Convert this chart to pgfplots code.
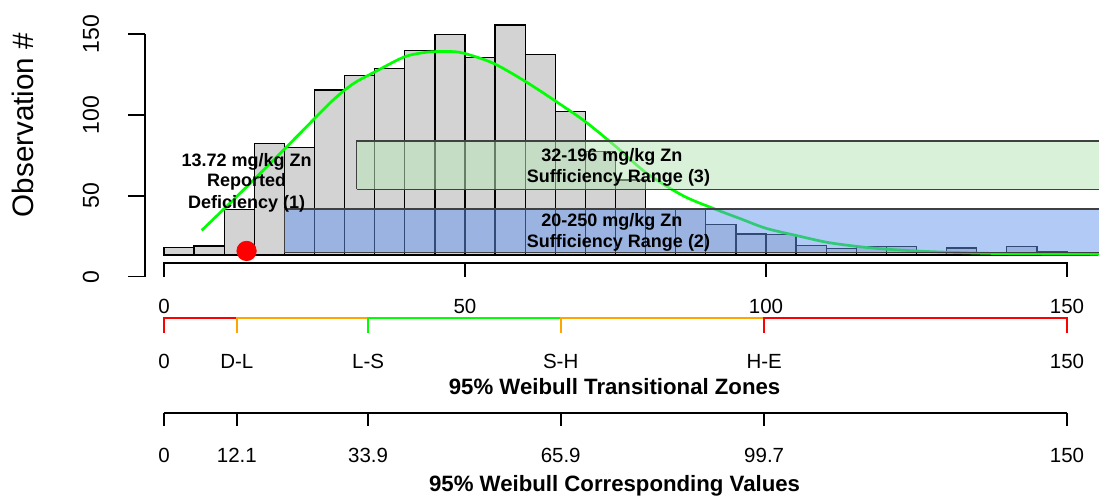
\documentclass[border=0pt]{standalone}
\usepackage{pgfplots}
\pgfplotsset{compat=1.18}
\usepackage{fontspec}
\setmainfont{Liberation Sans}
\definecolor{histgray}{RGB}{211,211,211}
\definecolor{rgreen}{RGB}{0,255,0}
\definecolor{rred}{RGB}{255,0,0}
\definecolor{rorange}{RGB}{255,165,0}
\definecolor{suffgreen}{RGB}{186,228,186}
\definecolor{suffblue}{RGB}{100,149,237}
\tikzset{
  tl/.style={font=\fontsize{10.25}{12}\selectfont, inner sep=0pt, anchor=base},
  intxt/.style={font=\fontsize{9}{10.5}\selectfont\bfseries, inner sep=0pt, anchor=base},
  ttl/.style={font=\fontsize{11.1}{13}\selectfont\bfseries, inner sep=0pt, anchor=base},
  yl/.style={rotate=90, anchor=base, inner sep=0pt, font=\fontsize{11.5}{13}\selectfont},
  ax/.style={line width=0.8pt},
  zn/.style={line width=1.1pt},
}
\begin{document}
\begin{tikzpicture}
\begin{axis}[
  scale only axis, width=451.5pt, height=121.35pt,
  xmin=0, xmax=150, ymin=0, ymax=150,
  hide axis, clip=false,
]
% histogram (heights above the bar base)
\addplot[ybar interval, fill=histgray, draw=black, line width=0.65pt] coordinates {
(0,4.5) (5,5.6) (10,28.2) (15,69.0) (20,66.6) (25,102.0) (30,111.1) (35,115.4)
(40,126.3) (45,136.2) (50,122.2) (55,142.2) (60,124.0) (65,88.6) (70,63.8) (75,46.4)
(80,28.4) (85,28.4) (90,19.0) (95,13.0) (100,12.8) (105,5.7) (110,4.0) (115,5.3)
(120,5.3) (125,2.0) (130,4.3) (135,1.5) (140,5.3) (145,2.0) (150,0.8) (155,0)
};
% fitted Weibull curve
\addplot[rgreen, line width=1.35pt, smooth] coordinates {
(6.26,15.2) (11.5,34) (17.1,54.6) (22.6,75.2) (28.1,95.8) (31.5,106) (35.2,113.5)
(39.9,122.4) (43.6,125.3) (47,125.8) (49.7,124.8) (54.7,118.5) (60.1,107.1) (65.2,94.7)
(70,82.4) (75.1,66.9) (80.2,50.5) (86.3,36.5) (91.8,28) (95.7,22.5) (100,16.5)
(105.1,12) (110.2,7.8) (115.6,5.1) (120,3.6) (127.2,2.1) (137.2,1.0) (145,0.7) (155.3,0.5)
};
% sufficiency ranges
\addplot[fill=suffgreen, fill opacity=0.55, draw=black!75, line width=0.65pt] coordinates {
(32,40.6) (32,70.46) (196,70.46) (196,40.6) (32,40.6)};
\addplot[fill=suffblue, fill opacity=0.5, draw=black!75, line width=0.65pt] coordinates {
(20,1.5) (20,28.4) (250,28.4) (250,1.5) (20,1.5)};
% texts
\node[intxt] at (axis cs:13.72,54.6) {13.72 mg/kg Zn};
\node[intxt] at (axis cs:13.72,42.2) {Reported};
\node[intxt] at (axis cs:13.72,28.9) {Deficiency (1)};
\node[intxt] at (axis cs:74.4,57.7) {32-196 mg/kg Zn};
\node[intxt] at (axis cs:75.5,44.7) {Sufficiency Range (3)};
\node[intxt] at (axis cs:74.4,17.5) {20-250 mg/kg Zn};
\node[intxt] at (axis cs:75.5,4.9) {Sufficiency Range (2)};
% reported deficiency point
\addplot[only marks, mark=*, mark size=4.85pt, color=rred] coordinates {(13.72,2.5)};
% y axis
\draw[ax] (axis cs:-3.156,-13.41) -- (axis cs:-3.156,136.59);
\draw[ax] (axis cs:-3.156,-13.41) -- (axis cs:-5.93,-13.41);
\draw[ax] (axis cs:-3.156,36.59) -- (axis cs:-5.93,36.59);
\draw[ax] (axis cs:-3.156,86.59) -- (axis cs:-5.93,86.59);
\draw[ax] (axis cs:-3.156,136.59) -- (axis cs:-5.93,136.59);
\node[yl] at (axis cs:-10.8,-13.41) {0};
\node[yl] at (axis cs:-10.8,36.59) {50};
\node[yl] at (axis cs:-10.8,86.59) {100};
\node[yl] at (axis cs:-10.8,136.59) {150};
\node[rotate=90, anchor=base, inner sep=0pt, font=\fontsize{14.8}{17}\selectfont] at (axis cs:-21.6,80.3) {Observation \#};
% top x axis
\draw[ax] (axis cs:0,-13.6) -- (axis cs:0,-4.94) -- (axis cs:150,-4.94) -- (axis cs:150,-13.6);
\draw[ax] (axis cs:50,-4.94) -- (axis cs:50,-13.6);
\draw[ax] (axis cs:100,-4.94) -- (axis cs:100,-13.6);
\node[tl] at (axis cs:0,-36.0) {0};
\node[tl] at (axis cs:50,-36.0) {50};
\node[tl] at (axis cs:100,-36.0) {100};
\node[tl] at (axis cs:150,-36.0) {150};
% transitional zones axis
\draw[zn, rred] (axis cs:0,-48.0) -- (axis cs:0,-39.1) -- (axis cs:12.1,-39.1);
\draw[zn, rorange] (axis cs:12.1,-48.0) -- (axis cs:12.1,-39.1) -- (axis cs:33.9,-39.1);
\draw[zn, rgreen] (axis cs:33.9,-48.0) -- (axis cs:33.9,-39.1) -- (axis cs:65.9,-39.1);
\draw[zn, rorange] (axis cs:65.9,-48.0) -- (axis cs:65.9,-39.1) -- (axis cs:99.7,-39.1);
\draw[zn, rred] (axis cs:99.7,-48.0) -- (axis cs:99.7,-39.1) -- (axis cs:150,-39.1) -- (axis cs:150,-48.0);
\node[tl] at (axis cs:0,-70.0) {0};
\node[tl] at (axis cs:12.1,-70.0) {D-L};
\node[tl] at (axis cs:33.9,-70.0) {L-S};
\node[tl] at (axis cs:65.9,-70.0) {S-H};
\node[tl] at (axis cs:99.7,-70.0) {H-E};
\node[tl] at (axis cs:150,-70.0) {150};
\node[ttl] at (axis cs:74.85,-86.2) {95\% Weibull Transitional Zones};
% corresponding values axis
\draw[ax] (axis cs:0,-97.5) -- (axis cs:150,-97.5);
\draw[ax] (axis cs:0,-97.5) -- (axis cs:0,-105.7);
\draw[ax] (axis cs:12.1,-97.5) -- (axis cs:12.1,-105.7);
\draw[ax] (axis cs:33.9,-97.5) -- (axis cs:33.9,-105.7);
\draw[ax] (axis cs:65.9,-97.5) -- (axis cs:65.9,-105.7);
\draw[ax] (axis cs:99.7,-97.5) -- (axis cs:99.7,-105.7);
\draw[ax] (axis cs:150,-97.5) -- (axis cs:150,-105.7);
\node[tl] at (axis cs:0,-128.4) {0};
\node[tl] at (axis cs:12.1,-128.4) {12.1};
\node[tl] at (axis cs:33.9,-128.4) {33.9};
\node[tl] at (axis cs:65.9,-128.4) {65.9};
\node[tl] at (axis cs:99.7,-128.4) {99.7};
\node[tl] at (axis cs:150,-128.4) {150};
\node[ttl] at (axis cs:74.85,-146.0) {95\% Weibull Corresponding Values};
% picture extent
\coordinate (bbl) at (axis cs:-27.24,-148.96);
\coordinate (btr) at (axis cs:155.32,157.6);
\end{axis}
\pgfresetboundingbox
\path[use as bounding box] (bbl) rectangle (btr);
\end{tikzpicture}
\end{document}
